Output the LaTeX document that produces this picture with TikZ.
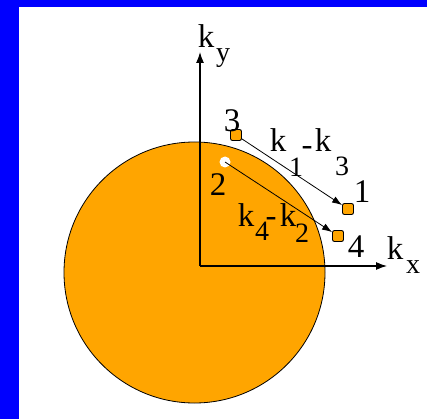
\documentclass[tikz,border=0pt]{standalone}
\usepackage{fontspec}
\setmainfont{Liberation Serif}
\usetikzlibrary{arrows.meta,positioning}
\definecolor{FermiOrange}{HTML}{FFA500}
\definecolor{FrameBlue}{HTML}{0000FF}
\tikzset{
  lbl/.style={inner sep=0pt, font=\fontsize{33}{33}\selectfont},
  sublbl/.style={inner sep=0pt, font=\fontsize{28}{28}\selectfont},
  kpt/.style={draw=black, fill=FermiOrange, rounded corners=2pt, minimum size=11pt, inner sep=0pt, line width=0.9pt},
  hole/.style={circle, fill=white, minimum size=11pt, inner sep=0pt},
  axis/.style={-{Latex[length=11pt,width=8pt]}, line width=1.2pt},
  scat/.style={-{Latex[length=10pt,width=7pt]}, line width=0.8pt}
}

\begin{document}
\begin{tikzpicture}[x=1pt, y=-1pt]
\useasboundingbox (0,0) rectangle (427,419);
% Frame
\fill[white] (0,0) rectangle (427,419);
\fill[FrameBlue] (0,0) rectangle (427,7);
\fill[FrameBlue] (0,0) rectangle (19,419);

% Fermi sphere
\draw[fill=FermiOrange, line width=0.8pt] (194.5,272.5) circle (130.5);

% Axes
\coordinate (O) at (200,266);
\coordinate (ytip) at (200,52);
\coordinate (xtip) at (387,266);
\draw[axis] (O) -- (ytip);
\draw[axis] (O) -- (xtip);
\node[lbl] (ky) at (206,36) {k};
\node[sublbl] (kysub) at (223,58) {y};
\node[lbl] (kx) at (395,248) {k};
\node[sublbl] (kxsub) at (413,267) {x};

% States before and after scattering
\node[kpt] (p3) at (236,135) {};
\node[kpt] (p1) at (348,209) {};
\node[kpt] (p4) at (338,236) {};
\node[hole] (p2) at (225,162) {};
\node[lbl] (n3) at (232,121) {3};
\node[lbl] (n1) at (362,192) {1};
\node[lbl] (n2) at (218,185) {2};
\node[lbl] (n4) at (356,247) {4};

% Scattering arrows
\draw[scat] (p3) -- (p1);
\draw[scat] (p2.center) -- (p4);

% Momentum transfer labels
\node[lbl] (k1) at (278,140) {k};
\node[sublbl] (k1sub) at (296,167) {1};
\node[lbl] (m13) at (307,151) {-};
\node[lbl] (k3) at (323,140) {k};
\node[sublbl] (k3sub) at (342,166) {3};
\node[lbl] (k4) at (246,215) {k};
\node[sublbl] (k4sub) at (262,231) {4};
\node[lbl] (m42) at (271,222) {-};
\node[lbl] (k2) at (288,215) {k};
\node[sublbl] (k2sub) at (302,233) {2};
\end{tikzpicture}
\end{document}
